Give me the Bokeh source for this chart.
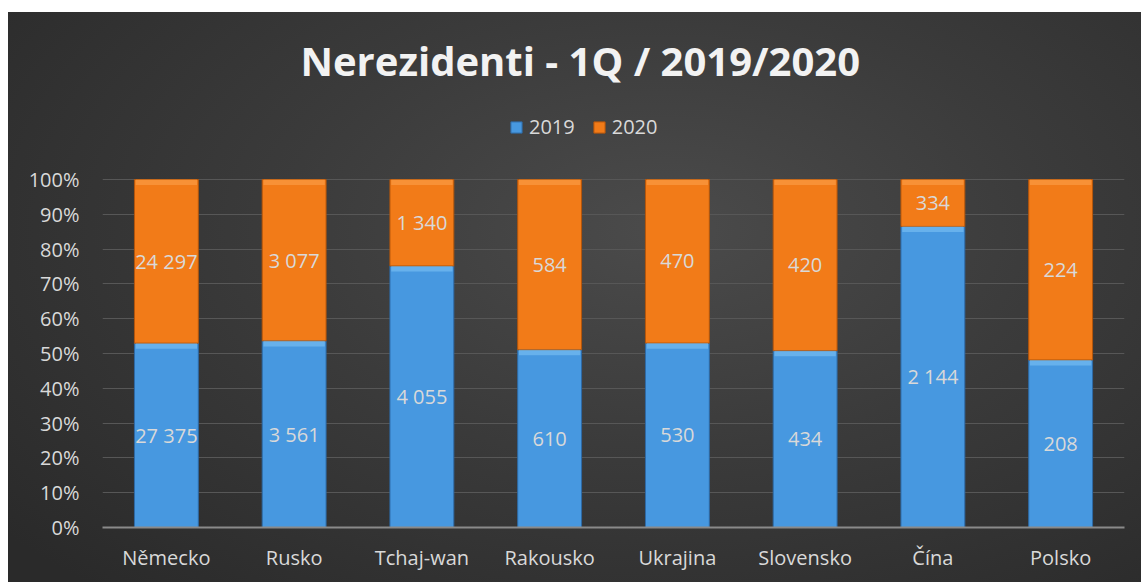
from bokeh.plotting import figure
from bokeh.models import (ColumnDataSource, LabelSet, Label, Legend, LegendItem,
                          NumeralTickFormatter, FixedTicker)
from bokeh.core.properties import value
from bokeh.embed import file_html
from bokeh.resources import INLINE

countries = ["Německo", "Rusko", "Tchaj-wan", "Rakousko", "Ukrajina", "Slovensko", "Čína", "Polsko"]
v2019 = [27375, 3561, 4055, 610, 530, 434, 2144, 208]
v2020 = [24297, 3077, 1340, 584, 470, 420, 334, 224]
years = ["2019", "2020"]
y_ticks = [0, 0.1, 0.2, 0.3, 0.4, 0.5, 0.6, 0.7, 0.8, 0.9, 1.0]
title_text = "Nerezidenti - 1Q / 2019/2020"

colors = {"2019": "#4798e0", "2020": "#f27b18"}
hilite = {"2019": "#8fd0fa", "2020": "#ffad5c"}
TXT = "#d9d9d9"
FONT = "Open Sans"

tot = [a + b for a, b in zip(v2019, v2020)]
p19 = [a / t for a, t in zip(v2019, tot)]
p20 = [b / t for b, t in zip(v2020, tot)]

def fmt(v):
    return f"{v:,}".replace(",", " ")

BEV = 0.016
src = ColumnDataSource(dict(
    country=countries,
    top19=p19, bot20=p19, top20=[1.0] * len(countries),
    hb19=[x - BEV for x in p19], hb20=[1.0 - BEV] * len(countries),
    mid19=[x / 2 for x in p19], mid20=[a + b / 2 for a, b in zip(p19, p20)],
    lab19=[fmt(v) for v in v2019], lab20=[fmt(v) for v in v2020],
))

# frame spans the full height above the axis; headroom holds title and legend
p = figure(x_range=countries, y_range=(0, 1.48), width=1133, height=570,
           output_backend="svg", toolbar_location=None, title=None,
           min_border_left=94, min_border_right=17, min_border_bottom=55, min_border_top=0)
p.margin = (12, 0, 0, 8)
p.background_fill_alpha = 0
p.border_fill_alpha = 0
p.styles = {"background": "radial-gradient(ellipse 75% 85% at 58% 38%, #4b4b4b 0%, #3b3b3b 45%, #2a2a2a 100%)"}
p.outline_line_color = None

r19 = p.vbar(x="country", bottom=0, top="top19", width=0.5, source=src,
             fill_color=colors["2019"], line_color="#2e6aa6", line_width=1)
r20 = p.vbar(x="country", bottom="bot20", top="top20", width=0.5, source=src,
             fill_color=colors["2020"], line_color="#b5560b", line_width=1)
p.vbar(x="country", bottom="hb19", top="top19", width=0.48, source=src,
       fill_color=hilite["2019"], line_color=None, fill_alpha=0.45)
p.vbar(x="country", bottom="hb20", top="top20", width=0.48, source=src,
       fill_color=hilite["2020"], line_color=None, fill_alpha=0.45)

p.add_layout(LabelSet(x="country", y="mid19", text="lab19", source=src,
                      text_align="center", text_baseline="middle",
                      text_color=TXT, text_font_size="20px", text_font=value(FONT)))
p.add_layout(LabelSet(x="country", y="mid20", text="lab20", source=src,
                      text_align="center", text_baseline="middle",
                      text_color=TXT, text_font_size="20px", text_font=value(FONT)))

p.yaxis.ticker = FixedTicker(ticks=y_ticks)
p.yaxis.formatter = NumeralTickFormatter(format="0%")
for ax in (p.xaxis, p.yaxis):
    ax.major_label_text_color = TXT
    ax.major_label_text_font = FONT
    ax.major_label_text_font_size = "20px"
    ax.major_tick_line_color = None
    ax.minor_tick_line_color = None
p.yaxis.axis_line_color = None
p.yaxis.major_label_standoff = 17
p.xaxis.axis_line_color = "#8a8a8a"
p.xaxis.axis_line_width = 2
p.xaxis.major_label_standoff = 10

p.xgrid.grid_line_color = None
p.ygrid.grid_line_color = "#575757"
p.ygrid.grid_line_width = 1

legend = Legend(items=[LegendItem(label=years[0], renderers=[r19]),
                       LegendItem(label=years[1], renderers=[r20])],
                orientation="horizontal", location=(407, 387),
                background_fill_alpha=0, border_line_color=None,
                label_text_color=TXT, label_text_font=FONT, label_text_font_size="20px",
                glyph_width=14, glyph_height=14, spacing=17, label_standoff=6,
                padding=0, margin=0)
p.add_layout(legend, "center")

p.add_layout(Label(x=3.74, y=1.342, text=title_text, text_align="center", text_baseline="middle",
                   text_color="#f2f2f2", text_font=FONT, text_font_style="bold",
                   text_font_size="40px"))

open("out.html", "w").write(file_html(p, INLINE))
